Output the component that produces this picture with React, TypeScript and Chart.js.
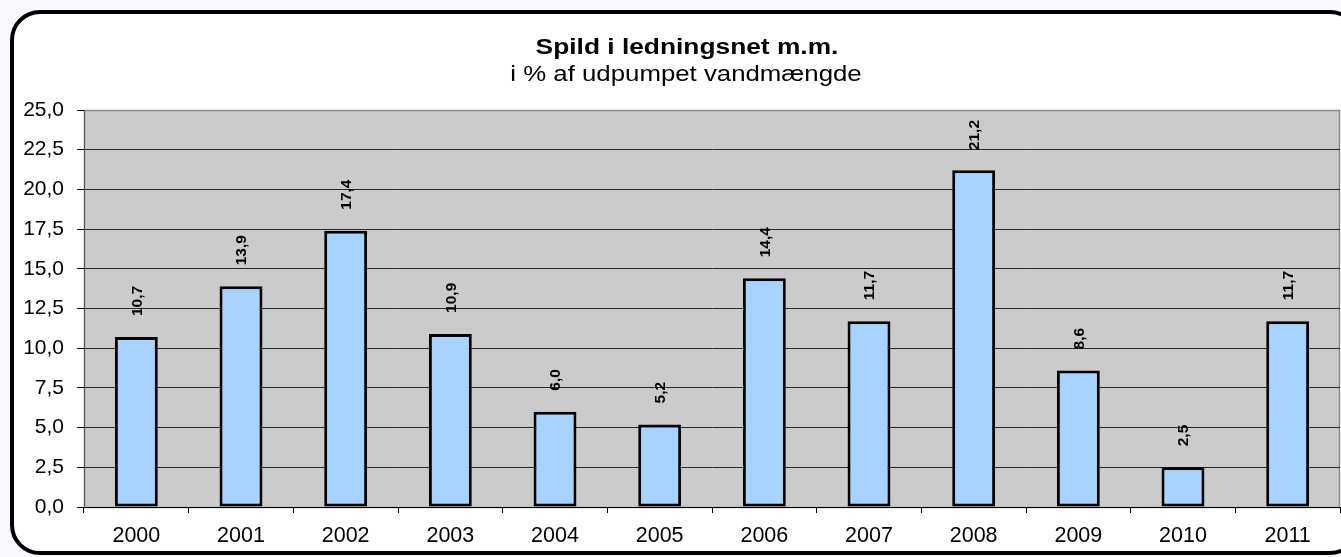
import React, { useEffect, useRef } from "react";
import { Chart, registerables } from "chart.js";

Chart.register(...registerables);

const years = ["2000", "2001", "2002", "2003", "2004", "2005", "2006", "2007", "2008", "2009", "2010", "2011"];
const spild = [10.7, 13.9, 17.4, 10.9, 6.0, 5.2, 14.4, 11.7, 21.2, 8.6, 2.5, 11.7];
const yTicks = [0, 2.5, 5, 7.5, 10, 12.5, 15, 17.5, 20, 22.5, 25];
const titleText = "Spild i ledningsnet m.m.";
const subtitleText = "i % af udpumpet vandmængde";

const FONT = "'Liberation Sans', Arial, sans-serif";
const fmt = (v: number) => v.toFixed(1).replace(".", ",");

const plotBg = {
  id: "plotBg",
  beforeDraw(chart: any) {
    const { ctx, chartArea: a } = chart;
    ctx.save();
    ctx.fillStyle = "#CBCBCB";
    ctx.fillRect(a.left, a.top, a.right - a.left, a.bottom - a.top);
    ctx.strokeStyle = "#8C8C8C";
    ctx.lineWidth = 1.5;
    ctx.strokeRect(a.left + 0.5, a.top + 0.5, a.right - a.left - 1, a.bottom - a.top);
    ctx.restore();
  },
  afterDraw(chart: any) {
    const { ctx } = chart;
    ctx.save();
    ctx.fillStyle = "#000";
    ctx.textAlign = "center";
    ctx.textBaseline = "alphabetic";
    ctx.save();
    ctx.translate(687, 54);
    ctx.scale(1.17, 1);
    ctx.font = "bold 22.5px " + FONT;
    ctx.fillText(titleText, 0, 0);
    ctx.restore();
    ctx.save();
    ctx.translate(686, 81);
    ctx.scale(1.2, 1);
    ctx.font = "21.5px " + FONT;
    ctx.fillText(subtitleText, 0, 0);
    ctx.restore();
    ctx.restore();
  },
};

const barLabels = {
  id: "barLabels",
  afterDatasetsDraw(chart: any) {
    const { ctx, chartArea } = chart;
    const meta = chart.getDatasetMeta(0);
    ctx.save();
    ctx.fillStyle = "#000";
    ctx.font = "bold 15.5px " + FONT;
    ctx.textAlign = "left";
    ctx.textBaseline = "middle";
    meta.data.forEach((bar: any, i: number) => {
      const txt = fmt(spild[i]);
      const w = ctx.measureText(txt).width;
      const start = Math.max(bar.y - 21, chartArea.top + 10 + w);
      ctx.save();
      ctx.translate(bar.x + 1, start);
      ctx.rotate(-Math.PI / 2);
      ctx.fillText(txt, 0, 0);
      ctx.restore();
    });
    ctx.restore();
  },
};

export default function App() {
  const ref = useRef<HTMLCanvasElement>(null);
  useEffect(() => {
    if (!ref.current) return;
    const chart = new Chart(ref.current, {
      type: "bar",
      data: {
        labels: years,
        datasets: [
          {
            data: spild,
            backgroundColor: "#A6D3FF",
            borderColor: "#000",
            borderWidth: 3,
            borderSkipped: false,
            categoryPercentage: 1,
            barPercentage: 0.41,
          },
        ],
      },
      plugins: [plotBg, barLabels],
      options: {
        animation: false,
        responsive: false,
        maintainAspectRatio: false,
        layout: { padding: { top: 110, right: 1, left: 0, bottom: 0 } },
        plugins: { legend: { display: false }, tooltip: { enabled: false }, title: { display: false } },
        scales: {
          x: {
            afterFit(scale: any) {
              scale.height = 50;
            },
            grid: { drawOnChartArea: false, drawTicks: true, offset: true, tickLength: 6, color: "#000" },
            border: { color: "#000", width: 1 },
            ticks: {
              color: "#000",
              font: { family: FONT, size: 21.5 },
              padding: 10,
            },
          },
          y: {
            min: 0,
            max: 25,
            afterFit(scale: any) {
              scale.width = 84;
            },
            afterBuildTicks(scale: any) {
              scale.ticks = yTicks.map((v) => ({ value: v }));
            },
            grid: {
              color: (c: any) => (c.tick && c.tick.value === 25 ? "rgba(0,0,0,0)" : "#2a2a2a"),
              tickColor: "#000",
              tickLength: 7,
              drawTicks: true,
            },
            border: { color: "#555", width: 1 },
            ticks: {
              color: "#000",
              font: { family: FONT, size: 21 },
              padding: 13,
              callback: (v: any) => fmt(Number(v)),
            },
          },
        },
      },
    });
    return () => chart.destroy();
  }, []);
  return (
    <div style={{ position: "fixed", left: 0, top: 0, width: 1341, height: 557, background: "#F8FAFD", overflow: "hidden" }}>
      <div
        style={{
          position: "absolute",
          left: 10,
          top: 10,
          width: 1350,
          height: 545,
          boxSizing: "border-box",
          border: "4px solid #000",
          borderRadius: 30,
          background: "#fff",
        }}
      />
      <canvas ref={ref} width={1341} height={557} style={{ position: "absolute", left: 0, top: 0 }} />
    </div>
  );
}
